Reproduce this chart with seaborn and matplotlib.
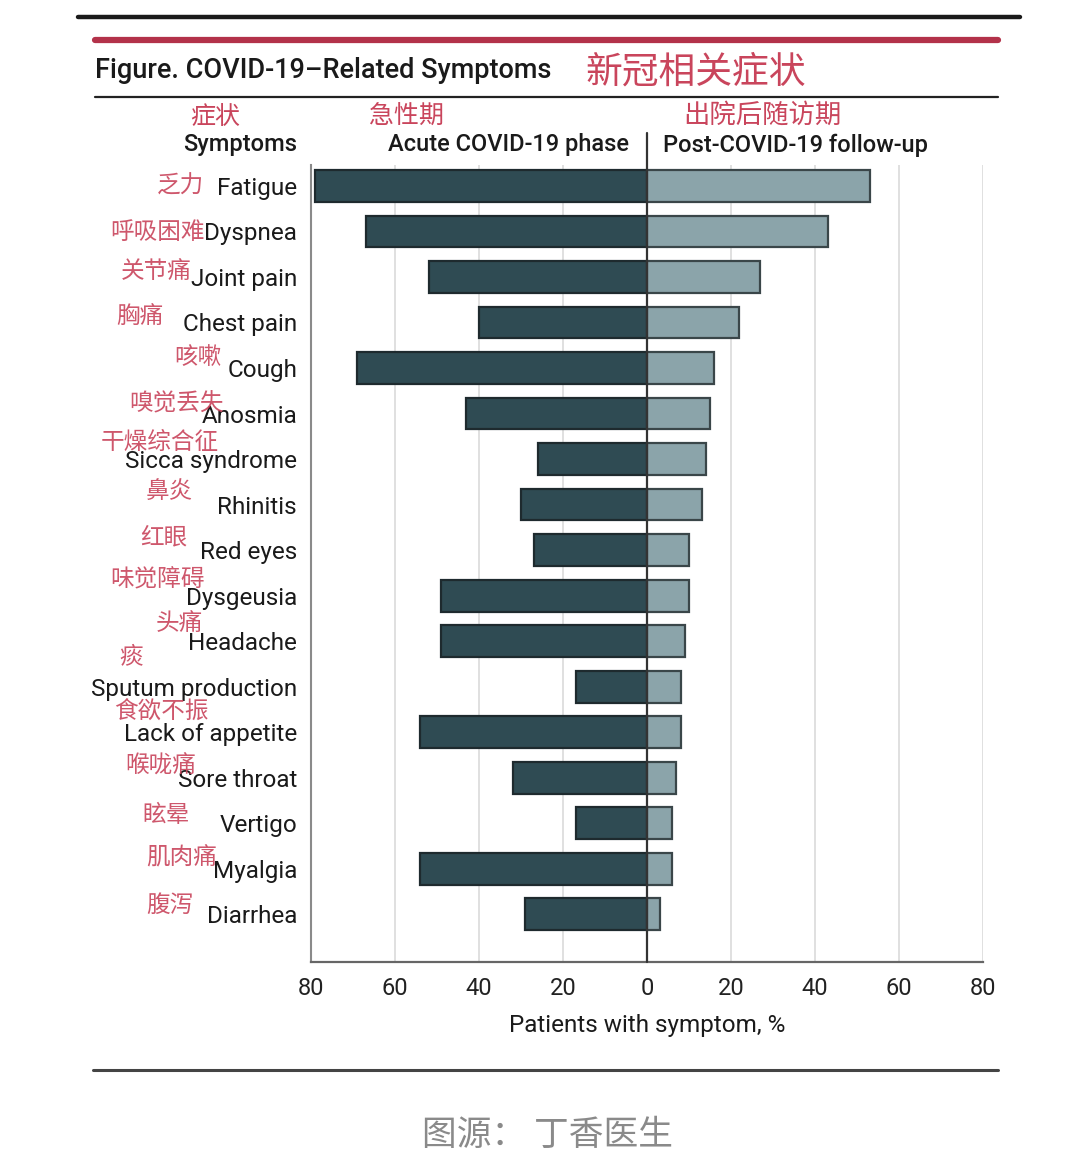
import matplotlib
matplotlib.use("Agg")
import matplotlib.pyplot as plt
from matplotlib.lines import Line2D
from matplotlib import font_manager
import seaborn as sns
import pandas as pd

# ---------------- data ----------------
symptoms = ["Fatigue", "Dyspnea", "Joint pain", "Chest pain", "Cough", "Anosmia",
            "Sicca syndrome", "Rhinitis", "Red eyes", "Dysgeusia", "Headache",
            "Sputum production", "Lack of appetite", "Sore throat", "Vertigo",
            "Myalgia", "Diarrhea"]
symptoms_cn = ["乏力", "呼吸困难", "关节痛", "胸痛", "咳嗽", "嗅觉丢失", "干燥综合征",
               "鼻炎", "红眼", "味觉障碍", "头痛", "痰", "食欲不振", "喉咙痛", "眩晕",
               "肌肉痛", "腹泻"]
acute = [79, 67, 52, 40, 69, 43, 26, 30, 27, 49, 49, 17, 54, 32, 17, 54, 29]
post = [53, 43, 27, 22, 16, 15, 14, 13, 10, 10, 9, 8, 8, 7, 6, 6, 3]
xticks = [-80, -60, -40, -20, 0, 20, 40, 60, 80]
xtick_labels = ["80", "60", "40", "20", "0", "20", "40", "60", "80"]

# ---------------- style ----------------
W, H = 1080, 1157
C_ACUTE = "#2f4b53"
C_POST = "#8ba4aa"
C_EDGE = "#1e2a2e"
C_RED = "#c9455c"
C_RULE_RED = "#b3324a"

sns.set_theme(style="white")
available = {f.name for f in font_manager.fontManager.ttflist}
latin = "Liberation Sans Narrow" if "Liberation Sans Narrow" in available else "Roboto"
FAM = [latin, "Noto Sans CJK SC", "DejaVu Sans"]
CJK = ["Noto Sans CJK SC", "DejaVu Sans"]
plt.rcParams["font.family"] = FAM

fig = plt.figure(figsize=(W / 100, H / 100), dpi=100)
fig.patch.set_facecolor("white")

def fx(px):
    return px / W

def fy(py):
    return 1 - py / H

ax_left, ax_right, ax_top, ax_bot = 311, 983, 165, 962
ax = fig.add_axes([fx(ax_left), fy(ax_bot), (ax_right - ax_left) / W, (ax_bot - ax_top) / H])

df_a = pd.DataFrame({"symptom": symptoms, "value": [-v for v in acute]})
df_p = pd.DataFrame({"symptom": symptoms, "value": post})

sns.barplot(data=df_a, x="value", y="symptom", order=symptoms, orient="h",
            color=C_ACUTE, saturation=1, width=0.7, edgecolor=C_EDGE,
            linewidth=1.6, ax=ax, zorder=3)
sns.barplot(data=df_p, x="value", y="symptom", order=symptoms, orient="h",
            color=C_POST, saturation=1, width=0.7, edgecolor="#3a4649",
            linewidth=1.6, ax=ax, zorder=3)

n = len(symptoms)
ax.set_xlim(-80, 80)
ax.set_ylim(n - 1 + 1.05, -0.46)
ax.set_xticks(xticks)
ax.set_xticklabels(xtick_labels, fontsize=17, color="#222222")
ax.set_yticks(range(n))
ax.set_yticklabels(symptoms, fontsize=17.5, color="#1a1a1a")
ax.tick_params(axis="y", length=0, pad=10)
ax.tick_params(axis="x", length=6, width=1.2, color="#555555", pad=5, direction="out")
ax.set_xlabel("Patients with symptom, %", fontsize=17.5, color="#1a1a1a", labelpad=10)
ax.set_ylabel("")

ax.grid(axis="x", color="#dddddd", linewidth=1.3)
ax.grid(axis="y", visible=False)
ax.set_axisbelow(True)
for s in ["top", "right"]:
    ax.spines[s].set_visible(False)
ax.spines["left"].set_color("#8a8a8a")
ax.spines["left"].set_linewidth(1.5)
ax.spines["bottom"].set_color("#666666")
ax.spines["bottom"].set_linewidth(1.6)

# zero line extending into header
ax.axvline(0, ymin=0, ymax=(ax_bot - 133) / (ax_bot - ax_top), clip_on=False,
           color="#333333", linewidth=1.6, zorder=4)

# Chinese symptom labels (right edge x, center y in pixels)
cn_pos = [(204, 186), (205, 232), (192, 272), (164, 317), (222, 357), (224, 404),
          (219, 443), (193, 492), (187, 538), (205, 579), (203, 624), (143, 657),
          (209, 711), (196, 766), (190, 815), (217, 858), (194, 905)]
for lab, (px, py) in zip(symptoms_cn, cn_pos):
    fig.text(fx(px), fy(py), lab, ha="right", va="center", fontsize=17,
             color=C_RED, family=CJK, alpha=0.9)

# ---------------- header / rules ----------------
fig.add_artist(Line2D([fx(78), fx(1020)], [fy(17), fy(17)], color="#1a1a1a", linewidth=3.2))
fig.add_artist(Line2D([fx(95), fx(998)], [fy(40), fy(40)], color=C_RULE_RED, linewidth=4.5))
fig.add_artist(Line2D([fx(95), fx(998)], [fy(97), fy(97)], color="#222222", linewidth=1.6))
fig.add_artist(Line2D([fx(93), fx(998)], [fy(1070), fy(1070)], color="#444444", linewidth=2.2))

fig.text(fx(95), fy(70), "Figure. COVID-19–Related Symptoms", ha="left", va="center",
         fontsize=19.5, fontweight="medium", color="#1a1a1a")
fig.text(fx(585), fy(72), "新冠相关症状", ha="left", va="center", fontsize=26.5,
         color=C_RED, family=CJK)

fig.text(fx(190), fy(117), "症状", ha="left", va="center", fontsize=18, color=C_RED, family=CJK)
fig.text(fx(369), fy(117), "急性期", ha="left", va="center", fontsize=18, color=C_RED, family=CJK)
fig.text(fx(683), fy(115), "出院后随访期", ha="left", va="center", fontsize=19, color=C_RED, family=CJK)

fig.text(fx(297), fy(145), "Symptoms", ha="right", va="center", fontsize=17,
         fontweight="medium", color="#1a1a1a")
fig.text(fx(629), fy(145), "Acute COVID-19 phase", ha="right", va="center", fontsize=17,
         fontweight="medium", color="#1a1a1a")
fig.text(fx(663), fy(145), "Post-COVID-19 follow-up", ha="left", va="center", fontsize=17,
         fontweight="medium", color="#1a1a1a")

fig.text(fx(548), fy(1135), "图源： 丁香医生", ha="center", va="center", fontsize=25,
         color="#8a8a8a", family=CJK)

fig.savefig("out.png", dpi=100, facecolor="white")
